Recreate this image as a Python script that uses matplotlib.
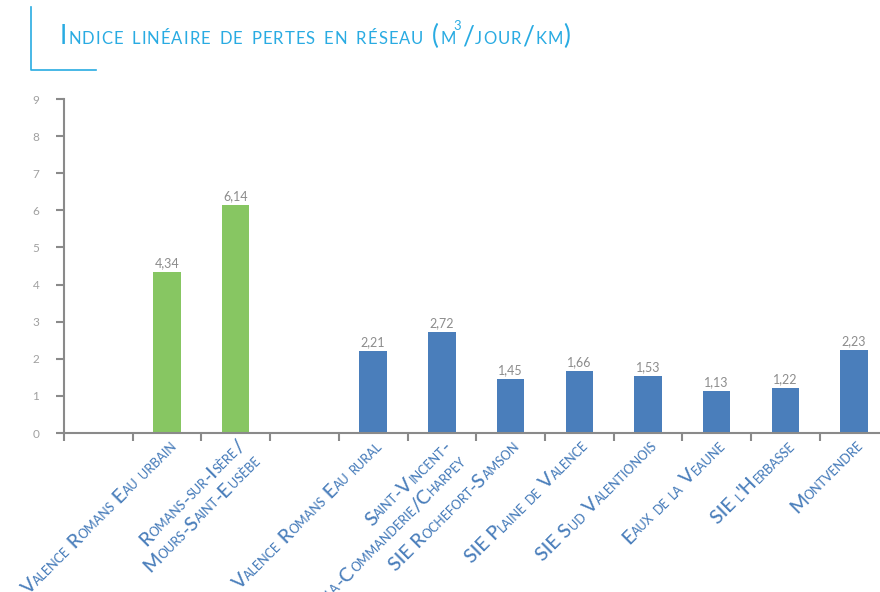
import numpy as np
import matplotlib
matplotlib.use('Agg')
import matplotlib.pyplot as plt
from matplotlib.font_manager import FontProperties

# data (slots left empty in the original chart are blank)
categories = ['', 'Valence Romans Eau urbain', 'Romans-sur-Isère/\nMours-Saint-Eusèbe', '',
              'Valence Romans Eau rural', 'Saint-Vincent-\nla-Commanderie/Charpey',
              'SIE Rochefort-Samson', 'SIE Plaine de Valence', 'SIE Sud Valentionois',
              'Eaux de la Veaune', "SIE l'Herbasse", 'Montvendre']
values = [np.nan, 4.34, 6.14, np.nan, 2.21, 2.72, 1.45, 1.66, 1.53, 1.13, 1.22, 2.23]
groups = ['', 'urbain', 'urbain', '', 'rural', 'rural', 'rural', 'rural', 'rural', 'rural', 'rural', 'rural']
value_labels = ['', '4,34', '6,14', '', '2,21', '2,72', '1,45', '1,66', '1,53', '1,13', '1,22', '2,23']
title = 'Indice linéaire de pertes en réseau (m³/jour/km)'

FONT = ['Lato', 'DejaVu Sans']
colors = {'urbain': '#87c662', 'rural': '#4a7ebb', '': 'none'}
axis_grey = '#8a8a8a'
title_blue = '#29abe2'
label_blue = '#4a7ebb'

fig = plt.figure(figsize=(8.8, 5.92), dpi=100)
W, H = 880, 592
ax = fig.add_axes([64 / W, 159 / H, 824.4 / W, 334 / H])
renderer = fig.canvas.get_renderer()

x = np.arange(len(categories))
ax.bar(x, values, width=0.4, color=[colors[g] for g in groups], zorder=2)
ax.set_xlim(-0.5, len(categories) - 0.5)
ax.set_ylim(0, 9)

for sp in ['top', 'right']:
    ax.spines[sp].set_visible(False)
for sp in ['left', 'bottom']:
    ax.spines[sp].set_color(axis_grey)
    ax.spines[sp].set_linewidth(1.5)

ax.set_yticks(range(10))
ax.tick_params(axis='y', length=5.8, width=1.5, color=axis_grey, pad=12,
               labelsize=8.5, labelcolor='#a0a0a0')
for t in ax.get_yticklabels():
    t.set_family(FONT)
ax.set_xticks(np.arange(-0.5, len(categories), 1.0))
ax.tick_params(axis='x', length=5.8, width=1.5, color=axis_grey, labelbottom=False)

# value labels above the bars
for xi, v, lab in zip(x, values, value_labels):
    if lab:
        ax.annotate(lab, xy=(xi, v), xytext=(0, 3), textcoords='offset pixels',
                    ha='center', va='bottom', fontsize=9, color='#8c8c8c', family=FONT)


def smallcaps_runs(s):
    # split into runs: 'big' capitals, 'small' (lower case shown as small capitals), 'sup'
    runs = []
    for ch in s:
        if ch == '³':
            kind, c = 'sup', '3'
        elif ch.islower():
            kind, c = 'small', ch.upper()
        else:
            kind, c = 'big', ch
        if runs and runs[-1][1] == kind:
            runs[-1][0] += c
        else:
            runs.append([c, kind])
    return runs


def text_w(s, prop):
    w1, _, _ = renderer.get_text_width_height_descent('I' + s + 'I', prop, ismath=False)
    w0, _, _ = renderer.get_text_width_height_descent('II', prop, ismath=False)
    return w1 - w0


def draw_smallcaps(xy, coords, text, big, small, angle, ha, dx, dy, color,
                   weight='normal', track=0.0, sup_rise=0.0):
    # fake small caps: lower case letters drawn as smaller capitals
    sizes = {'big': big, 'small': small, 'sup': small * 0.78}
    pieces = []
    for r, kind in smallcaps_runs(text):
        p = FontProperties(family=FONT, size=sizes[kind], weight=weight)
        chunks = list(r) if track else [r]
        for ch in chunks:
            pieces.append((ch, kind, p, text_w(ch, p) + track))
    c, s = np.cos(np.radians(angle)), np.sin(np.radians(angle))
    pos = -sum(pc[3] for pc in pieces) if ha == 'right' else 0.0
    for ch, kind, p, w in pieces:
        rise = 0.0
        if kind == 'sup':
            rise = sup_rise
            pos -= 3
        ax.annotate(ch, xy=xy, xycoords=coords,
                    xytext=(dx + pos * c - rise * s, dy + pos * s + rise * c),
                    textcoords='offset pixels', rotation=angle, rotation_mode='anchor',
                    ha='left', va='baseline', fontproperties=p, color=color,
                    annotation_clip=False)
        pos += w


# category labels, rotated 45 degrees, right end under the bar
line_gap = 21.5
for xi, cat in zip(x, categories):
    if not cat:
        continue
    for k, line in enumerate(cat.split('\n')):
        off = k * line_gap * np.sqrt(0.5)
        draw_smallcaps((xi, 0), ax.get_xaxis_transform(), line, 14.0, 9.0, 45, 'right',
                       10 + off, -14 - off, label_blue, weight='medium')

# title with corner bracket
draw_smallcaps((60, H - 44), 'figure pixels', title, 19, 12, 0, 'left', 0, 0, title_blue,
               track=1.05, sup_rise=14.5)
fig.add_artist(plt.Line2D([31 / W, 31 / W, 96 / W], [(H - 7) / H, (H - 70) / H, (H - 70) / H],
                          transform=fig.transFigure, color=title_blue, lw=1.2))

fig.savefig('out.png', dpi=100)
